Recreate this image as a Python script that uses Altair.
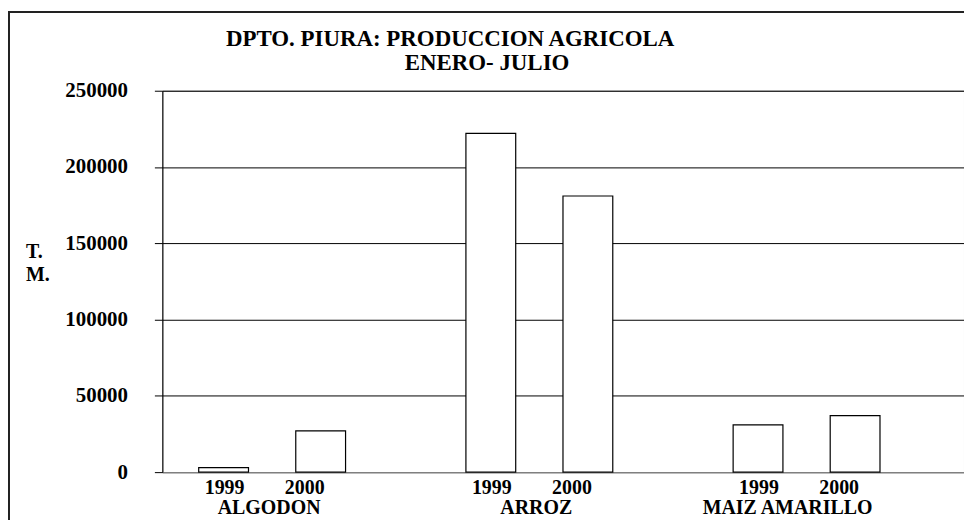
import altair as alt
import pandas as pd

# ---- data ----
crops = ["ALGODON", "ARROZ", "MAIZ AMARILLO"]
years = ["1999", "2000"]
prod_1999 = [3000, 222000, 31000]
prod_2000 = [27000, 181000, 37000]
y_ticks = [0, 50000, 100000, 150000, 200000, 250000]
title_lines = ["DPTO. PIURA: PRODUCCION AGRICOLA", "ENERO- JULIO"]
y_title_lines = ["T.", "M."]

rows = []
for c, a, b in zip(crops, prod_1999, prod_2000):
    rows.append({"crop": c, "year": years[0], "tm": a})
    rows.append({"crop": c, "year": years[1], "tm": b})
df = pd.DataFrame(rows)
one = pd.DataFrame({"k": [0]})

FONT = "Liberation Serif"
W, H = 805, 383

x_axis = alt.Axis(
    title=None, ticks=False, tickSize=0, grid=False, labelAngle=0,
    labelPadding=36, labelBaseline="middle", labelFontSize=20, labelFont=FONT,
    labelFontWeight="bold", labelColor="black", domainColor="#808080", domainWidth=1.5,
    labelOffset={"condition": {"test": "datum.value === 'MAIZ AMARILLO'", "value": -43}, "value": -27},
)
y_axis = alt.Axis(
    values=y_ticks, format="d", title=None, grid=True, gridColor="black", gridWidth=1,
    gridOpacity=1, tickColor="black", tickSize=8, tickWidth=1, domainColor="black",
    domainWidth=1, labelFontSize=21, labelFont=FONT, labelFontWeight="bold",
    labelColor="black", labelPadding=27,
)

bars = alt.Chart(df).mark_bar(fill="white", stroke="black", strokeWidth=1.2).encode(
    x=alt.X("crop:N", sort=crops, scale=alt.Scale(paddingInner=0, paddingOuter=0), axis=x_axis),
    xOffset=alt.XOffset("year:N", sort=years,
                        scale=alt.Scale(paddingInner=0.487, paddingOuter=0.62, align=0.302)),
    y=alt.Y("tm:Q", scale=alt.Scale(domain=[0, 250000], nice=False), axis=y_axis),
)


def year_layer(yr, dx):
    return alt.Chart(df).transform_filter(alt.datum.year == yr).mark_text(
        font=FONT, fontSize=20, fontWeight="bold", baseline="middle", dx=dx, color="black"
    ).encode(
        x=alt.X("crop:N", sort=crops),
        xOffset=alt.XOffset("year:N", sort=years),
        y=alt.value(H + 16),
        text="year:N",
    )


def label(text, x, y, size, align="center"):
    return alt.Chart(one).mark_text(
        text=text, font=FONT, fontSize=size, fontWeight="bold", align=align,
        baseline="middle", color="black"
    ).encode(x=alt.value(x), y=alt.value(y))


frame_top = alt.Chart(one).mark_rule(color="#222222", strokeWidth=2).encode(
    x=alt.value(-155), x2=alt.value(W + 20), y=alt.value(-79))
frame_left = alt.Chart(one).mark_rule(color="#222222", strokeWidth=2).encode(
    x=alt.value(-154), y=alt.value(-79), y2=alt.value(H + 80))

chart = alt.layer(
    frame_top, frame_left, bars,
    year_layer(years[0], 1), year_layer(years[1], -16),
    label(title_lines[0], 289, -52, 23), label(title_lines[1], 326, -28, 23),
    label(y_title_lines[0], -137, 161.5, 20, "left"), label(y_title_lines[1], -137, 185, 20, "left"),
).properties(
    width=W, height=H,
    autosize=alt.AutoSizeParams(type="none"),
    padding={"left": 155, "top": 82, "right": 0, "bottom": 47},
    background="white",
).configure_view(stroke="#808080", strokeWidth=1)

chart.save("out.html", embed_options={"renderer": "svg", "actions": False})
